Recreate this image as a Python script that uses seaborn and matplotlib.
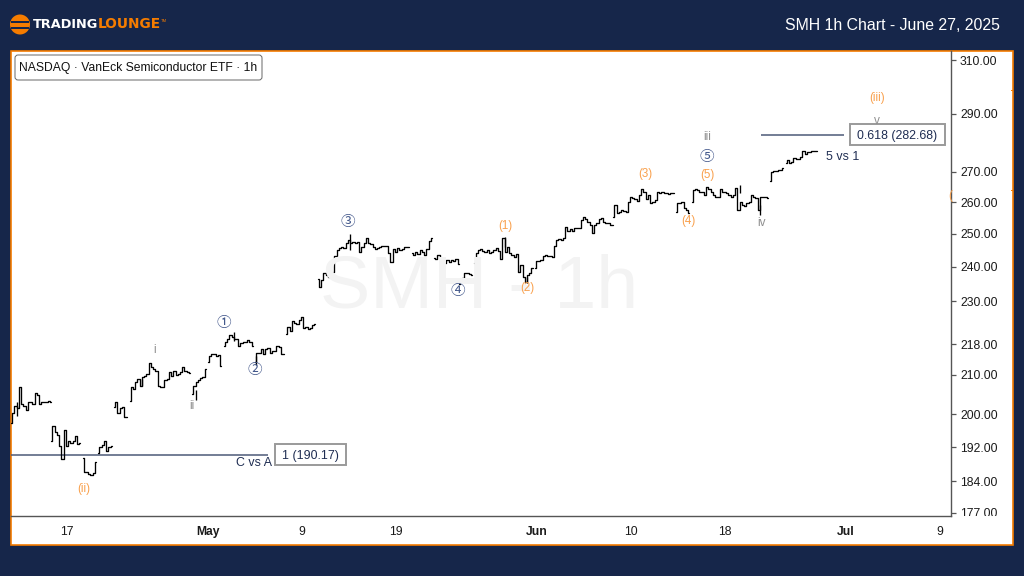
import matplotlib
matplotlib.use("Agg")
import matplotlib.pyplot as plt
import matplotlib.patches as mp
from matplotlib.transforms import IdentityTransform, Bbox
from matplotlib.ticker import FixedLocator, NullLocator, FixedFormatter
import numpy as np
import pandas as pd
import seaborn as sns

NAVY = "#16264a"
ORANGE = "#f57c00"
LABEL_ORANGE = "#f9a04c"
INK = "#1f2d52"
GREY = "#8f8f8f"

# hourly closes, one list per unbroken run of bars
seg_starts = [-25, -7, 7, 14, 21, 28, 56, 63, 70, 84, 98, 112, 119, 154, 164, 175, 182, 209, 244, 272, 279, 314, 321]
seg_a = [197.8,200.2,201.9,201.4,206.7,202.6,201.9,200.9,203.1,203.1,202.4,205.2,204.7,202.4,203.1,202.9,203.1,203.2,203.1]
seg_b = [193.5,197.0,195.5,195.0,192.3,189.2,196.0,192.3,193.5,193.0,193.5,194.7,192.8,193.0]
seg_c = [189.4,186.2,186.2,185.8,185.5,185.9,188.5]
seg_d = [190.6,192.1,192.4,193.4,191.0,192.0,192.2]
seg_e = [201.7,203.0,200.2,201.4,201.7,199.4,199.2]
seg_f = [203.2,206.9,206.4,208.2,209.0,207.2,209.5,209.7,210.2,213.1,212.0,211.5,211.0,207.2,206.9,206.9,208.5,209.0,210.7,209.7,211.0,210.0,210.2,210.7,212.0,211.0,210.7,210.5]
seg_g = [205.1,207.2,208.2,208.5,209.2,209.5,211.5]
seg_h = [213.3,215.0,215.5,215.5,215.0,215.2,212.3]
seg_i = [217.5,218.8,219.4,220.5,220.0,219.4,219.4,217.5,218.3,218.6,218.8,219.1,218.6,217.7]
seg_j = [213.3,215.8,215.8,216.8,215.5,216.8,217.1,215.8,216.3,216.3,217.5,217.3,215.5,215.5]
seg_k = [220.8,222.9,221.6,224.3,223.8,223.5,224.6,225.5,222.6,222.9,222.3,222.6,223.2,223.5]
seg_l = [236.5,234.2,236.2,238.2,237.6,237.0,237.0]
seg_m = [238.5,243.3,245.1,245.7,246.0,245.7,247.2,248.1,247.2,247.5,247.2,247.5,244.5,246.0,247.2,248.7,247.2,246.9,246.0,245.4,245.7,246.0,246.3,246.3,246.3,244.2,241.5,245.4,244.5,245.7,245.1,245.4,246.0,246.0,246.0]
seg_n = [244.2,243.6,244.5,243.9,245.1,244.5,243.6,245.4,247.8,248.7]
seg_o = [242.7,242.4,243.6,240.3,242.7,241.2,242.1,241.5,242.1,241.8,242.4,240.9]
seg_p = [235.0,236.5,236.8,238.2,238.2,237.9,237.6]
seg_q = [241.2,244.2,245.1,245.4,244.8,244.5,245.1,244.2,244.5,245.1,245.7,244.8,242.4,248.7,244.5,246.0,244.2,243.6,243.0,243.9,238.5,240.6,237.0,235.6,237.6,238.2,239.7]
seg_r = [239.7,241.8,241.8,242.1,243.3,243.6,243.3,243.3,243.0,246.3,248.1,248.4,248.1,248.7,252.1,250.9,251.5,250.9,251.8,251.8,251.8,254.3,255.2,254.6,253.7,252.8,250.3,252.8,253.4,254.6,255.0,253.7,253.4,253.4,252.6,252.8]
seg_s = [255.2,259.0,256.6,256.9,257.5,257.2,256.9,260.0,261.7,261.4,261.0,260.4,262.2,264.2,263.2,261.0,262.2,259.7,260.0,260.7,263.2,262.9,263.2,262.9,262.9,262.5,262.9,262.9]
seg_t = [256.9,259.7,259.7,260.0,258.0,257.5,256.6]
seg_u = [260.0,263.9,264.2,263.9,263.2,263.2,262.2,264.9,264.2,263.2,262.2,261.7,261.7,264.2,263.2,263.2,262.9,262.2,261.7,262.2,264.6,257.5,260.0,259.0,258.7,259.7,260.0,262.2,261.7,261.4,257.5,261.7,261.7,261.7,261.4]
seg_v = [266.9,269.9,270.2,270.2,270.5,270.5,271.1]
seg_w = [272.9,273.9,272.9,273.2,274.6,274.2,274.2,274.9,277.0,276.0,276.6,276.6,277.0,277.0,277.0]
segments = [seg_a,seg_b,seg_c,seg_d,seg_e,seg_f,seg_g,seg_h,seg_i,seg_j,seg_k,seg_l,seg_m,seg_n,seg_o,seg_p,seg_q,seg_r,seg_s,seg_t,seg_u,seg_v,seg_w]

# high-low extremes visible beyond the closes
wick_bars = [-23, 126, 74, 195, 205, 300, 309, 57, 33, 84]
wick_low  = [199.5, 245.0, 219.0, 246.0, 235.2, 263.0, 256.0, 203.5, 207.0, 212.5]
wick_high = [203.0, 249.8, 221.5, 249.0, 237.0, 265.5, 259.0, 206.0, 209.0, 215.0]

y_ticks = [310, 290, 270, 260, 250, 240, 230, 218, 210, 200, 192, 184, 177]
x_tick_bars = [0, 63, 105, 147, 210, 252, 294, 348, 390]
x_tick_labels = ["17", "May", "9", "19", "Jun", "10", "18", "Jul", "9"]
bold_labels = {"May", "Jun", "Jul"}
level_low, level_high = 190.17, 282.68

rows = []
for n, (start, vals) in enumerate(zip(seg_starts, segments)):
    for k, v in enumerate(vals):
        rows.append({"bar": start + k, "close": v, "seg": n})
df = pd.DataFrame(rows)

sns.set_theme(style="white")
plt.rcParams["font.family"] = ["Liberation Sans", "DejaVu Sans"]
plt.rcParams["path.simplify"] = False

W, H = 1024, 576
fig = plt.figure(figsize=(W / 100, H / 100), dpi=100, facecolor=NAVY)
ID = IdentityTransform()

def rect(x0, y0, x1, y1, **kw):
    fig.add_artist(mp.Rectangle((x0, H - y1), x1 - x0, y1 - y0, transform=ID, **kw))

def label(x, y, s, **kw):
    kw.setdefault("ha", "center")
    kw.setdefault("va", "center")
    kw.setdefault("zorder", 8)
    fig.text(x / W, 1 - y / H, s, **kw)

rect(10.5, 50.5, 1013, 544.5, facecolor="white", edgecolor=ORANGE, linewidth=1.2, zorder=0)
rect(1011, 90, 1013, 91, facecolor=ORANGE, edgecolor="none", zorder=1)
rect(1011, 190, 1013, 191, facecolor=ORANGE, edgecolor="none", zorder=1)

ax = fig.add_axes([11 / W, 1 - 516 / H, 940 / W, 465 / H], facecolor="none")
sns.lineplot(data=df, x="bar", y="close", units="seg", estimator=None,
             drawstyle="steps-mid", color="black", linewidth=0.95, ax=ax, legend=False, zorder=4)
ax.vlines(np.array(wick_bars) + 0.5, wick_low, wick_high, color="black", linewidth=0.95, zorder=4)

ax.set_yscale("log")
ax.set_xlim(-25, 394.9)
ax.set_ylim(176.3, 313.5)
ax.yaxis.tick_right()
ax.yaxis.set_major_locator(FixedLocator(y_ticks))
ax.yaxis.set_major_formatter(FixedFormatter([f"{v:.2f}" for v in y_ticks]))
ax.yaxis.set_minor_locator(NullLocator())
ax.set_xticks(x_tick_bars)
ax.set_xticklabels(x_tick_labels)
ax.set_xlabel("")
ax.set_ylabel("")
ax.tick_params(axis="y", which="major", right=True, length=3.5, width=0.9, color="#555555",
               labelsize=8.7, labelcolor="#1a1a1a", pad=3)
ax.tick_params(axis="x", bottom=False, length=0, labelsize=8.7, labelcolor="#1a1a1a", pad=7)
for t in ax.get_xticklabels():
    if t.get_text() in bold_labels:
        t.set_fontweight("bold")
for t, v in zip(ax.get_yticklabels(), y_ticks):
    if v == 177:
        t.set_clip_box(Bbox([[940, H - 516], [1013, H - 50]]))
        t.set_clip_on(True)
for side in ["top", "left"]:
    ax.spines[side].set_visible(False)
for side in ["right", "bottom"]:
    ax.spines[side].set_visible(True)
    ax.spines[side].set_color("#555555")
    ax.spines[side].set_linewidth(1.0)

# reference levels
ax.hlines(level_low, -25, 90, color="#4d5a78", linewidth=1.1, zorder=3)
ax.hlines(level_high, 310, 347, color="#4d5a78", linewidth=1.1, zorder=3)

# watermark
label(479, 288, "SMH - 1h", fontsize=54.3, color="#f3f3f3", zorder=1)

# header
circ = mp.Circle((20, H - 24.5), 10, transform=ID, facecolor=ORANGE, edgecolor="none", zorder=5)
fig.add_artist(circ)
rect(11, 20.5, 29, 22.5, facecolor=NAVY, edgecolor="none", zorder=6)
rect(11, 26.5, 29, 28.5, facecolor=NAVY, edgecolor="none", zorder=6)
label(33, 24.5, "TRADING", ha="left", fontsize=9.3, color="white", family="DejaVu Sans", fontweight="bold")
label(98, 24.5, "LOUNGE", ha="left", fontsize=9.9, color=ORANGE, family="DejaVu Sans", fontweight="bold")
label(161, 21, "TM", ha="left", fontsize=3, color=ORANGE)
label(1000, 25, "SMH 1h Chart - June 27, 2025", ha="right", fontsize=11.4, color="white")

# instrument chip
fig.add_artist(mp.FancyBboxPatch((18, H - 77), 241, 19, transform=ID,
                                 boxstyle="round,pad=3,rounding_size=3",
                                 facecolor="white", edgecolor="#666666", linewidth=0.7, zorder=7))
label(138.5, 67.5, "NASDAQ \u00b7 VanEck Semiconductor ETF \u00b7 1h", fontsize=8.7, color="#111111")

# value boxes
rect(274.5, 444, 346, 465, facecolor="white", edgecolor="#9a9a9a", linewidth=1.4, zorder=7)
label(310, 456, "1 (190.17)", fontsize=8.9, color=INK)
rect(850, 124, 945, 145, facecolor="white", edgecolor="#9a9a9a", linewidth=1.4, zorder=7)
label(897.5, 135.5, "0.618 (282.68)", fontsize=8.9, color=INK)
label(254, 463.5, "C vs A", fontsize=8.9, color=INK)
label(843, 157, "5 vs 1", fontsize=8.9, color=INK)

# wave labels
grey_labels = [(155, 350, "i"), (192, 406, "ii"), (707, 137, "iii"), (761, 223, "iv"), (877, 121, "v")]
for x, y, s in grey_labels:
    label(x, y, s, fontsize=8.5, color=GREY)
orange_labels = [(84, 489, "(ii)"), (505, 226, "(1)"), (527, 288, "(2)"), (645, 174, "(3)"),
                 (688, 221, "(4)"), (707, 175, "(5)"), (877, 98, "(iii)")]
for x, y, s in orange_labels:
    label(x, y, s, fontsize=8.3, color=LABEL_ORANGE)
label(950.5, 196, "(", fontsize=8.3, color=LABEL_ORANGE, zorder=2)
circled = [(224, 323, "\u2460"), (255, 370, "\u2461"), (348, 222, "\u2462"), (458, 291, "\u2463"), (707, 157, "\u2464")]
for x, y, s in circled:
    label(x, y, s, fontsize=10.5, color="#44598c", family=["Noto Sans CJK JP", "DejaVu Sans"])

fig.savefig("out.png", dpi=100, facecolor=NAVY)
